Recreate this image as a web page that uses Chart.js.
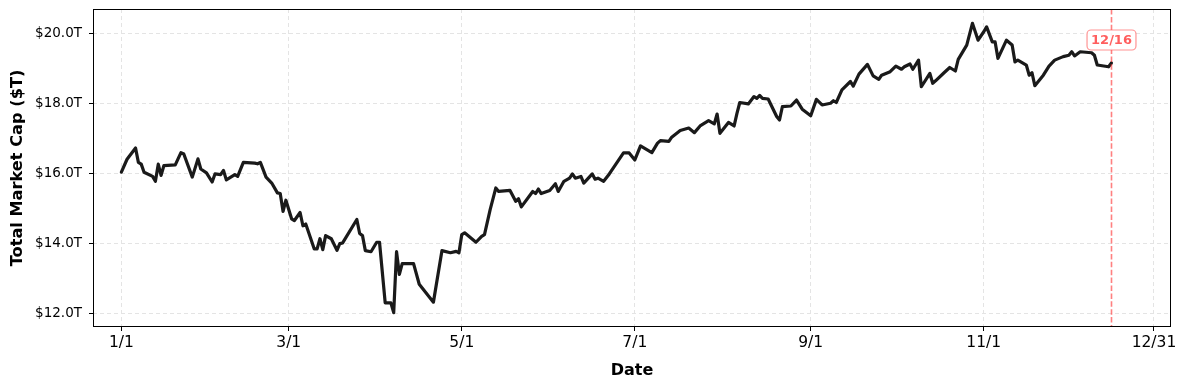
<!DOCTYPE html>
<html>
<head>
<meta charset="utf-8">
<script src="https://cdn.jsdelivr.net/npm/chart.js@4.4.1/dist/chart.umd.min.js"></script>
<style>
  html, body { margin: 0; padding: 0; background: #fff; }
  #wrap { width: 1187px; height: 389px; }
</style>
</head>
<body>
<div id="wrap"><canvas id="c" width="1187" height="389"></canvas></div>
<script>
const YEAR = 2025;
const dates = ['1/1','1/3','1/6','1/7','1/8','1/9','1/12','1/13','1/14','1/15','1/16','1/20','1/22','1/23','1/26','1/28','1/29','1/31',
'2/2','2/3','2/5','2/6','2/7','2/10','2/11','2/13','2/17','2/18','2/19','2/21','2/23','2/25','2/26','2/27','2/28',
'3/2','3/3','3/5','3/6','3/7','3/10','3/11','3/12','3/13','3/14','3/16','3/18','3/19','3/20','3/25','3/26','3/27','3/28','3/30',
'4/1','4/2','4/4','4/6','4/7','4/8','4/9','4/10','4/14','4/16','4/21','4/24','4/27','4/29','4/30',
'5/1','5/2','5/6','5/8','5/9','5/11','5/13','5/14','5/18','5/20','5/21','5/22','5/26','5/27','5/28','5/29',
'6/1','6/3','6/4','6/6','6/8','6/9','6/10','6/12','6/13','6/16','6/17','6/18','6/20','6/22','6/27','6/29',
'7/1','7/3','7/7','7/9','7/10','7/13','7/14','7/17','7/20','7/22','7/24','7/27','7/29','7/30','7/31',
'8/3','8/5','8/6','8/7','8/10','8/12','8/13','8/14','8/15','8/17','8/20','8/21','8/22','8/25','8/27','8/29',
'9/1','9/3','9/5','9/8','9/9','9/10','9/12','9/15','9/16','9/18','9/21','9/23','9/25','9/26','9/29',
'10/1','10/3','10/4','10/6','10/7','10/9','10/10','10/13','10/14','10/15','10/18','10/20','10/22','10/23','10/26','10/28','10/30',
'11/1','11/2','11/4','11/5','11/6','11/9','11/11','11/12','11/13','11/16','11/17','11/18','11/19','11/22','11/24','11/26','11/29',
'12/1','12/2','12/3','12/5','12/9','12/10','12/11','12/15','12/16'];
const marketCap = [16.03,16.40,16.72,16.31,16.26,16.03,15.91,15.77,16.26,15.94,16.22,16.24,16.59,16.55,15.89,16.41,16.12,16.01,
15.75,15.98,15.96,16.08,15.81,15.96,15.91,16.31,16.29,16.27,16.31,15.89,15.72,15.44,15.42,14.91,15.23,
14.70,14.65,14.88,14.50,14.55,13.84,13.84,14.13,13.82,14.22,14.13,13.80,13.99,14.01,14.68,14.28,14.22,13.79,13.76,
14.03,14.03,12.30,12.30,12.02,13.76,13.11,13.42,13.42,12.83,12.32,13.79,13.73,13.77,13.73,
14.25,14.30,14.03,14.20,14.25,14.96,15.58,15.48,15.51,15.20,15.27,15.04,15.48,15.42,15.55,15.42,
15.51,15.70,15.48,15.77,15.86,15.98,15.86,15.91,15.72,15.98,15.83,15.86,15.77,15.98,16.58,16.58,
16.38,16.78,16.59,16.86,16.93,16.91,17.03,17.22,17.29,17.16,17.35,17.50,17.41,17.69,17.14,
17.45,17.35,17.71,18.02,17.98,18.19,18.14,18.22,18.14,18.12,17.62,17.52,17.90,17.92,18.09,17.83,
17.64,18.11,17.95,18.00,18.07,18.02,18.38,18.62,18.49,18.83,19.11,18.78,18.68,18.80,18.90,
19.06,18.97,19.04,19.12,18.97,19.23,18.47,18.85,18.57,18.64,18.87,19.02,18.92,19.25,19.66,20.28,19.80,
20.04,20.18,19.75,19.75,19.28,19.80,19.66,19.18,19.23,19.09,18.80,18.87,18.50,18.80,19.06,19.23,19.33,
19.37,19.47,19.35,19.47,19.44,19.37,19.09,19.04,19.15];
const xTickLabels = ['1/1','3/1','5/1','7/1','9/1','11/1','12/31'];
const yTickValues = [12, 14, 16, 18, 20];
const markerDate = '12/16';

function dayOf(s) {
  const [m, d] = s.split('/').map(Number);
  return (Date.UTC(YEAR, m - 1, d) - Date.UTC(YEAR, 0, 1)) / 86400000;
}
const points = dates.map((d, i) => ({ x: dayOf(d), y: marketCap[i] }));
const xTickDays = xTickLabels.map(dayOf);

const FONT = "'DejaVu Sans', sans-serif";

const overlay = {
  id: 'overlay',
  afterDatasetsDraw(chart) {
    const { ctx, chartArea: a, scales: { x } } = chart;
    const vx = Math.round(x.getPixelForValue(dayOf(markerDate))) + 0.5;
    ctx.save();
    ctx.strokeStyle = 'rgba(255,60,60,0.65)';
    ctx.lineWidth = 1.6;
    ctx.setLineDash([5.5, 2.4]);
    ctx.beginPath();
    ctx.moveTo(vx, a.top);
    ctx.lineTo(vx, a.bottom);
    ctx.stroke();
    ctx.setLineDash([]);
    ctx.font = "bold 13px " + FONT;
    const tw = ctx.measureText(markerDate).width;
    const bw = tw + 8, bh = 20, cy = 40;
    const bx = vx - bw / 2, by = cy - bh / 2;
    ctx.beginPath();
    if (ctx.roundRect) ctx.roundRect(bx, by, bw, bh, 4); else ctx.rect(bx, by, bw, bh);
    ctx.fillStyle = 'rgba(255,255,255,0.9)';
    ctx.fill();
    ctx.strokeStyle = 'rgba(255,90,90,0.65)';
    ctx.lineWidth = 1.2;
    ctx.stroke();
    ctx.fillStyle = '#ff5e5e';
    ctx.textAlign = 'center';
    ctx.textBaseline = 'middle';
    ctx.fillText(markerDate, vx, cy + 1);
    ctx.strokeStyle = '#000';
    ctx.lineWidth = 1;
    ctx.strokeRect(Math.round(a.left) + 0.5, Math.round(a.top) + 0.5,
                   Math.round(a.right - a.left) - 1, Math.round(a.bottom - a.top) - 1);
    ctx.restore();
  }
};

new Chart(document.getElementById('c'), {
  type: 'line',
  data: {
    datasets: [{
      data: points,
      borderColor: '#1a1a1a',
      borderWidth: 3.2,
      pointRadius: 0,
      tension: 0,
      fill: false,
      borderJoinStyle: 'round',
      borderCapStyle: 'round'
    }]
  },
  options: {
    responsive: false,
    animation: false,
    layout: { padding: { top: 9, right: 16, left: 0, bottom: 0 } },
    plugins: { legend: { display: false }, tooltip: { enabled: false } },
    scales: {
      x: {
        type: 'linear',
        min: -10,
        max: 370,
        afterBuildTicks(scale) { scale.ticks = xTickDays.map(v => ({ value: v })); },
        afterFit(scale) { scale.height = 62; scale.paddingLeft = 0; scale.paddingRight = 0; },
        ticks: {
          callback(v) { const i = xTickDays.indexOf(v); return i >= 0 ? xTickLabels[i] : ''; },
          font: { family: FONT, size: 15.5 },
          color: '#000',
          padding: 3,
          maxRotation: 0,
          autoSkip: false
        },
        grid: {
          color: '#e4e4e4',
          lineWidth: 1,
          drawTicks: true,
          tickLength: 4,
          tickColor: '#000',
          tickWidth: 1
        },
        border: { display: false, dash: [4, 3] },
        title: {
          display: true,
          text: 'Date',
          font: { family: FONT, size: 16, weight: 'bold' },
          color: '#000',
          padding: { top: 0, bottom: 9 }
        }
      },
      y: {
        min: 11.61,
        max: 20.69,
        afterBuildTicks(scale) { scale.ticks = yTickValues.map(v => ({ value: v })); },
        afterFit(scale) { scale.width = 93; scale.paddingTop = 0; scale.paddingBottom = 0; },
        ticks: {
          callback(v) { return '$' + Number(v).toFixed(1) + 'T'; },
          font: { family: FONT, size: 13.5 },
          color: '#000',
          padding: 7
        },
        grid: {
          color: '#e4e4e4',
          lineWidth: 1,
          drawTicks: true,
          tickLength: 4,
          tickColor: '#000',
          tickWidth: 1
        },
        border: { display: false, dash: [4, 3] },
        title: {
          display: true,
          text: 'Total Market Cap ($T)',
          font: { family: FONT, size: 16.2, weight: 'bold' },
          color: '#000',
          padding: { top: 8, bottom: 0 }
        }
      }
    }
  },
  plugins: [overlay]
});
</script>
</body>
</html>
